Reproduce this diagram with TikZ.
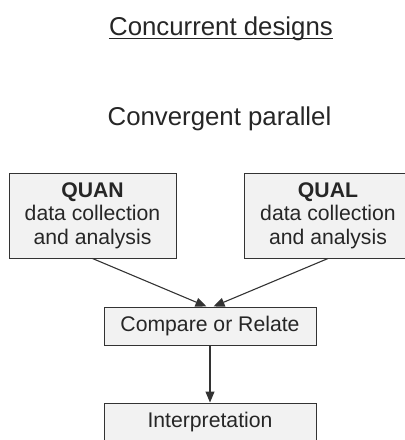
\documentclass[tikz,border=0pt]{standalone}
\usepackage{fontspec}
\setmainfont{Liberation Sans}
\usetikzlibrary{arrows.meta,positioning}
\definecolor{DsgLine}{HTML}{333333}
\definecolor{DsgFill}{HTML}{F2F2F2}
\definecolor{DsgText}{HTML}{262626}

\begin{document}
\begin{tikzpicture}[x=1pt,y=1pt,node distance=57pt,>={Triangle[length=11pt,width=9pt]}]
  \tikzstyle{box}=[draw=DsgLine, line width=1pt, fill=DsgFill, text=DsgText, align=center, inner sep=0pt, font=\fontsize{21.2}{23.5}\selectfont]
  \tikzstyle{heading}=[text=DsgText, inner sep=0pt, anchor=base, font=\fontsize{25.8}{30}\selectfont]
  \useasboundingbox (0,0) rectangle (405,-440);
  \node[heading] (title) at (221,-35.8) {Concurrent designs};
  \draw[DsgText, line width=1pt] ([yshift=-2.8pt]title.base west) -- ([yshift=-2.8pt]title.base east);
  \node[heading] (sub) at (219.5,-125) {Convergent parallel};
  \node[box, minimum width=167pt, minimum height=85pt] (quan) at (92.5,-215.5) {\textbf{QUAN}\\data collection\\and analysis};
  \node[box, minimum width=167pt, minimum height=85pt] (qual) at (328,-215.5) {\textbf{QUAL}\\data collection\\and analysis};
  \node[box, minimum width=212pt, minimum height=38pt] (cmp) at (210,-326) {Compare or Relate};
  \node[box, minimum width=212pt, minimum height=38pt, below=of cmp] (interp) {Interpretation};
  \draw[->, line width=1.1pt, DsgLine] (quan.south) -- ([xshift=-3.5pt]cmp.north);
  \draw[->, line width=1.1pt, DsgLine] (qual.south) -- ([xshift=3.5pt]cmp.north);
  \draw[->, line width=1.1pt, DsgLine] (cmp) -- (interp);
\end{tikzpicture}
\end{document}
